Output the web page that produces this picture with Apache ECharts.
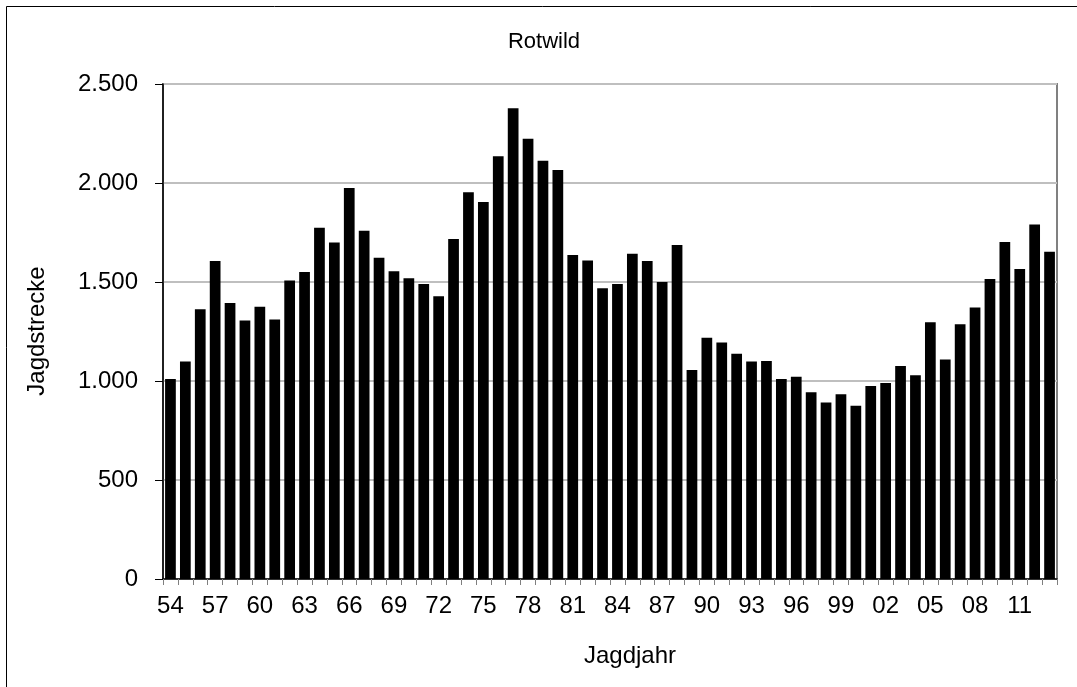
<!DOCTYPE html>
<html>
<head>
<meta charset="utf-8">
<script src="https://cdn.jsdelivr.net/npm/echarts@6/dist/echarts.min.js"></script>
<style>
html,body{margin:0;padding:0;background:#fff;}
#chart{width:1077px;height:687px;}
</style>
</head>
<body>
<div id="chart"></div>
<script>
const chartTitle = 'Rotwild';
const xAxisTitle = 'Jagdjahr';
const yAxisTitle = 'Jagdstrecke';
const categories = ['54','55','56','57','58','59','60','61','62','63',
  '64','65','66','67','68','69','70','71','72','73',
  '74','75','76','77','78','79','80','81','82','83',
  '84','85','86','87','88','89','90','91','92','93',
  '94','95','96','97','98','99','00','01','02','03',
  '04','05','06','07','08','09','10','11','12','13'];
const values = [1010,1098,1362,1606,1394,1306,1375,1311,1507,1550,
  1774,1699,1975,1759,1623,1554,1519,1490,1428,1717,
  1953,1904,2135,2377,2224,2112,2066,1636,1609,1468,
  1490,1643,1606,1500,1687,1056,1219,1195,1138,1098,
  1101,1010,1022,943,891,933,875,975,990,1076,
  1029,1297,1108,1287,1371,1515,1702,1566,1791,1653];
const yTickLabels = ['0','500','1.000','1.500','2.000','2.500'];

const font = '"Liberation Sans", Arial, sans-serif';
const chart = echarts.init(document.getElementById('chart'), null, {renderer:'canvas'});
chart.setOption({
  animation: false,
  backgroundColor: '#ffffff',
  grid: {
    left: 163, top: 84, right: 20, bottom: 108,
    show: true, borderColor: '#808080', borderWidth: 2, backgroundColor: 'transparent'
  },
  xAxis: {
    type: 'category',
    data: categories,
    boundaryGap: true,
    axisLine: {lineStyle: {color: '#000', width: 1.5}},
    axisTick: {show: true, interval: 0, length: 6, lineStyle: {color: '#7f7f7f'}},
    axisLabel: {interval: 2, color: '#000', fontFamily: font, fontSize: 24, margin: 15}
  },
  yAxis: {
    type: 'value',
    min: 0, max: 2500, interval: 500,
    axisLine: {show: true, lineStyle: {color: '#000', width: 1.5}},
    axisTick: {show: true, length: 8, lineStyle: {color: '#000'}},
    axisLabel: {color: '#000', fontFamily: font, fontSize: 24, margin: 25,
      formatter: v => yTickLabels[Math.round(v / 500)]},
    splitLine: {show: true, lineStyle: {color: '#bfbfbf', width: 2}}
  },
  series: [{
    type: 'bar',
    data: values,
    barCategoryGap: '28%',
    itemStyle: {color: '#000', borderColor: '#000', borderWidth: 0}
  }],
  graphic: [
    {type: 'rect', shape: {x: 6.5, y: 6.5, width: 1300, height: 900}, silent: true,
      style: {fill: 'none', stroke: '#000', lineWidth: 1}},
    {type: 'text', x: 544, y: 42, silent: true,
      style: {text: chartTitle, fill: '#000', font: '22px ' + font, textAlign: 'center', textVerticalAlign: 'middle'}},
    {type: 'text', x: 630, y: 656, silent: true,
      style: {text: xAxisTitle, fill: '#000', font: '24px ' + font, textAlign: 'center', textVerticalAlign: 'middle'}},
    {type: 'text', x: 37, y: 331, rotation: Math.PI / 2, silent: true,
      style: {text: yAxisTitle, fill: '#000', font: '24px ' + font, textAlign: 'center', textVerticalAlign: 'middle'}}
  ]
});
</script>
</body>
</html>
